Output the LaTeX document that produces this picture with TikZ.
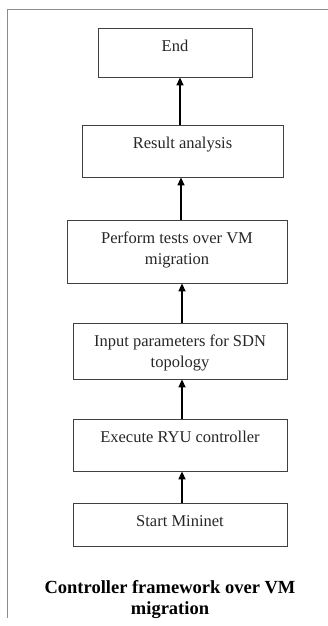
\documentclass[tikz,border=0pt]{standalone}
\usepackage{fontspec}
\setmainfont{Liberation Serif}
\usetikzlibrary{arrows.meta,calc}
\tikzset {>={Triangle[width=7pt,length=8pt]}}
\tikzset{
  stepbox/.style={draw=black!75, line width=0.8pt, inner sep=0pt},
  steptext/.style={anchor=north, inner sep=0pt, yshift=-12.5pt, align=center,
    font=\fontsize{16.5}{21}\selectfont, text=black!85},
  flow/.style={->, line width=1.3pt},
}

\begin{document}
\begin{tikzpicture}[x=1pt,y=1pt]
\useasboundingbox (0,0) rectangle (328,626);
% page frame
\draw[black!45, line width=0.8pt] (7,8) -- (7,617) -- (328,617);

% steps
\node[stepbox, minimum width=154pt, minimum height=49pt,
  label={[steptext]north:End}] (end) at (175,573.5) {};
\node[stepbox, minimum width=201pt, minimum height=52pt,
  label={[steptext]north:Result analysis}] (res) at (182.5,475) {};
\node[stepbox, minimum width=220pt, minimum height=63pt,
  label={[steptext]north:Perform tests over VM\\migration}] (per) at (177,374.5) {};
\node[stepbox, minimum width=214pt, minimum height=56pt,
  label={[steptext]north:Input parameters for SDN\\topology}] (inp) at (180,275) {};
\node[stepbox, minimum width=214pt, minimum height=52pt,
  label={[steptext]north:Execute RYU controller}] (exe) at (180,181) {};
\node[stepbox, minimum width=214pt, minimum height=43pt,
  label={[steptext]north:Start Mininet}] (sta) at (180,101.5) {};

% caption
\node[align=center, font=\fontsize{18.5}{21}\selectfont\bfseries] (cap) at (170,26.5)
  {Controller framework over VM\\migration};

% arrows
\draw[flow] ($(res.north)+(-2.5,0)$) -- ($(res.north |- end.south)+(-2.5,0)$);
\draw[flow] ($(per.north)+(4,0)$) -- ($(per.north |- res.south)+(4,0)$);
\draw[flow] ($(inp.north)+(2,0)$) -- ($(inp.north |- per.south)+(2,0)$);
\draw[flow] ($(exe.north)+(2,0)$) -- ($(exe.north |- inp.south)+(2,0)$);
\draw[flow] ($(sta.north)+(2,0)$) -- ($(sta.north |- exe.south)+(2,0)$);
\end{tikzpicture}
\end{document}
